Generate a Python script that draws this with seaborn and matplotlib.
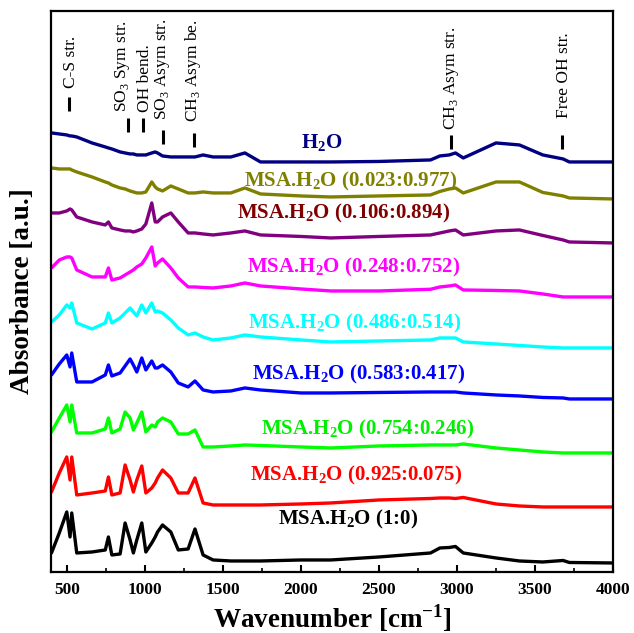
import numpy as np
import pandas as pd
import matplotlib
matplotlib.use("Agg")
import matplotlib.pyplot as plt
from matplotlib.ticker import MultipleLocator
import seaborn as sns

# wavenumber grid (cm-1)
wavenumber = [400, 450, 498, 519, 530, 562, 660, 745, 765, 787, 840, 872, 904, 925, 947,
              979, 1005, 1043, 1065, 1080, 1112, 1165, 1213, 1276, 1320, 1372, 1436, 1550,
              1640, 1740, 2000, 2190, 2500, 2830, 2890, 2950, 2990, 3040, 3250, 3400, 3550,
              3680, 3720, 4000]

# stacked absorbance traces (a.u., already offset)
msa_1_0 = [.12, .32, .53, .28, .52, .12, .13, .15, .28, .10, .11, .42, .25, .12, .25,
           .42, .13, .22, .28, .33, .40, .33, .15, .16, .36, .10, .05, .04, .04, .04,
           .05, .05, .08, .12, .17, .175, .185, .12, .07, .04, .03, .045, .025, .02]
msa_0925 = [.73, .92, 1.08, .85, 1.08, .70, .72, .74, .88, .70, .72, 1.00, .85, .73, .85,
            .99, .72, .77, .82, .87, .95, .87, .72, .72, .87, .62, .60, .60, .60, .60,
            .61, .62, .65, .665, .67, .67, .665, .675, .61, .59, .58, .58, .58, .58]
msa_0754 = [1.33, 1.47, 1.60, 1.43, 1.60, 1.32, 1.32, 1.36, 1.47, 1.32, 1.36, 1.53, 1.47, 1.35, 1.42,
            1.53, 1.33, 1.40, 1.38, 1.43, 1.47, 1.43, 1.31, 1.31, 1.35, 1.18, 1.18, 1.19, 1.20, 1.195,
            1.18, 1.17, 1.19, 1.20, 1.20, 1.20, 1.20, 1.21, 1.17, 1.15, 1.13, 1.12, 1.12, 1.12]
msa_0583 = [1.90, 2.01, 2.10, 1.98, 2.12, 1.83, 1.83, 1.90, 2.00, 1.89, 1.92, 1.99, 2.06, 2.00, 1.93,
            2.07, 1.95, 2.04, 1.97, 1.97, 2.00, 1.93, 1.82, 1.78, 1.84, 1.75, 1.73, 1.74, 1.77, 1.75,
            1.72, 1.72, 1.725, 1.73, 1.73, 1.73, 1.73, 1.72, 1.70, 1.69, 1.675, 1.67, 1.66, 1.66]
msa_0486 = [2.43, 2.50, 2.60, 2.57, 2.62, 2.42, 2.36, 2.42, 2.52, 2.42, 2.47, 2.52, 2.57, 2.53, 2.49,
            2.60, 2.52, 2.62, 2.53, 2.54, 2.52, 2.45, 2.37, 2.30, 2.32, 2.28, 2.25, 2.27, 2.30, 2.28,
            2.25, 2.23, 2.24, 2.25, 2.27, 2.27, 2.27, 2.23, 2.21, 2.195, 2.18, 2.17, 2.17, 2.17]
msa_0248 = [2.97, 3.05, 3.08, 3.08, 3.07, 2.95, 2.88, 2.88, 2.97, 2.85, 2.87, 2.90, 2.93, 2.95, 2.98,
            3.01, 3.07, 3.18, 2.99, 3.02, 3.06, 2.97, 2.87, 2.78, 2.78, 2.775, 2.77, 2.79, 2.82, 2.79,
            2.76, 2.74, 2.74, 2.757, 2.78, 2.79, 2.80, 2.75, 2.745, 2.74, 2.71, 2.68, 2.68, 2.68]
msa_0106 = [3.52, 3.52, 3.54, 3.56, 3.55, 3.48, 3.43, 3.40, 3.43, 3.37, 3.35, 3.34, 3.34, 3.33, 3.34,
            3.36, 3.41, 3.62, 3.43, 3.43, 3.48, 3.52, 3.43, 3.32, 3.32, 3.31, 3.30, 3.32, 3.34, 3.30,
            3.285, 3.27, 3.285, 3.30, 3.32, 3.34, 3.35, 3.30, 3.34, 3.35, 3.295, 3.25, 3.23, 3.22]
msa_0023 = [3.97, 3.96, 3.96, 3.96, 3.95, 3.93, 3.88, 3.83, 3.82, 3.80, 3.77, 3.76, 3.74, 3.73, 3.72,
            3.72, 3.73, 3.83, 3.78, 3.76, 3.74, 3.79, 3.76, 3.72, 3.72, 3.73, 3.72, 3.72, 3.77, 3.71,
            3.69, 3.68, 3.69, 3.70, 3.735, 3.76, 3.77, 3.72, 3.83, 3.83, 3.725, 3.69, 3.67, 3.66]
water = [4.32, 4.31, 4.30, 4.29, 4.29, 4.28, 4.22, 4.18, 4.17, 4.16, 4.13, 4.12, 4.11, 4.11, 4.10,
         4.10, 4.10, 4.12, 4.13, 4.12, 4.09, 4.08, 4.08, 4.08, 4.08, 4.10, 4.08, 4.08, 4.12, 4.03,
         4.03, 4.03, 4.035, 4.05, 4.09, 4.10, 4.12, 4.07, 4.22, 4.20, 4.10, 4.06, 4.03, 4.03]

samples = ["1:0", "0.925:0.075", "0.754:0.246", "0.583:0.417", "0.486:0.514",
           "0.248:0.752", "0.106:0.894", "0.023:0.977", "H2O"]
traces = [msa_1_0, msa_0925, msa_0754, msa_0583, msa_0486, msa_0248, msa_0106, msa_0023, water]
line_colors = ["#000000", "#ff0000", "#00ff00", "#0000ff", "#00ffff",
               "#ff00ff", "#800080", "#808000", "#000080"]
label_colors = ["#000000", "#ff0000", "#00ee00", "#0000ff", "#00ffff",
                "#ff00ff", "#800000", "#808000", "#000080"]
label_x = [2300, 2350, 2430, 2370, 2345, 2340, 2275, 2315, 2135]
label_y = [0.45, 0.89, 1.35, 1.90, 2.41, 2.97, 3.51, 3.83, 4.22]

# band assignments at the top
band_names = ["C-S str.", "SO$_3$ Sym str.", "OH bend.", "SO$_3$ Asym str.",
              "CH$_3$ Asym be.", "CH$_3$ Asym str.", "Free OH str."]
band_wn = [515, 893, 989, 1117, 1314, 2960, 3675]
band_top = [4.68, 4.47, 4.47, 4.35, 4.32, 4.30, 4.30]
band_text_wn = [522, 855, 998, 1112, 1310, 2966, 3686]
band_text_y = [4.77, 4.53, 4.53, 4.45, 4.43, 4.35, 4.47]

df = pd.DataFrame({
    "wn": wavenumber * len(samples),
    "absorbance": np.concatenate(traces),
    "sample": np.repeat(samples, len(wavenumber)),
})

sns.set_style("ticks")
plt.rcParams["font.family"] = ["Liberation Serif", "DejaVu Serif"]
plt.rcParams["mathtext.fontset"] = "custom"
plt.rcParams["mathtext.rm"] = "Liberation Serif"
plt.rcParams["mathtext.bf"] = "Liberation Serif:bold"
for key in ["text.color", "axes.labelcolor", "xtick.color", "ytick.color", "axes.edgecolor"]:
    plt.rcParams[key] = "black"

fig = plt.figure(figsize=(6.34, 6.33), dpi=100)
ax = fig.add_axes([0.0812, 0.0964, 0.8857, 0.8863])

sns.lineplot(data=df, x="wn", y="absorbance", hue="sample", hue_order=samples,
             palette=line_colors, estimator=None, sort=False, legend=False,
             linewidth=2.4, ax=ax)
for ln in ax.get_lines():
    ln.set_solid_joinstyle("round")

for s, c, x, y in zip(samples, label_colors, label_x, label_y):
    if s == "H2O":
        txt = r"H$_\mathbf{2}$O"
    else:
        txt = r"MSA.H$_\mathbf{2}$O (" + s + ")"
    ax.text(x, y, txt, color=c, fontsize=15, fontweight="bold",
            ha="center", va="center")

ax.vlines(band_wn, [t - 0.14 for t in band_top], band_top, color="black", lw=2.2)
for name, x, y in zip(band_names, band_text_wn, band_text_y):
    ax.text(x, y, name, rotation=90, ha="center", va="bottom", fontsize=12.5)

ax.set_xlim(400, 4000)
ax.set_ylim(-0.07, 5.54)
ax.set_yticks([])
ax.xaxis.set_major_locator(MultipleLocator(500))
ax.xaxis.set_minor_locator(MultipleLocator(250))
ax.tick_params(axis="x", which="major", direction="in", length=5, width=1.5,
               labelsize=12.5, pad=7)
ax.tick_params(axis="x", which="minor", direction="in", length=3, width=1.2)
for lab in ax.get_xticklabels():
    lab.set_fontweight("bold")
for sp in ax.spines.values():
    sp.set_linewidth(1.6)
    sp.set_visible(True)

ax.set_xlabel(r"Wavenumber [cm$^{\mathbf{-1}}$]", fontsize=19.5, fontweight="bold", labelpad=3)
ax.set_ylabel("Absorbance [a.u.]", fontsize=19.5, fontweight="bold", labelpad=12)

fig.savefig("out.png", dpi=100)
